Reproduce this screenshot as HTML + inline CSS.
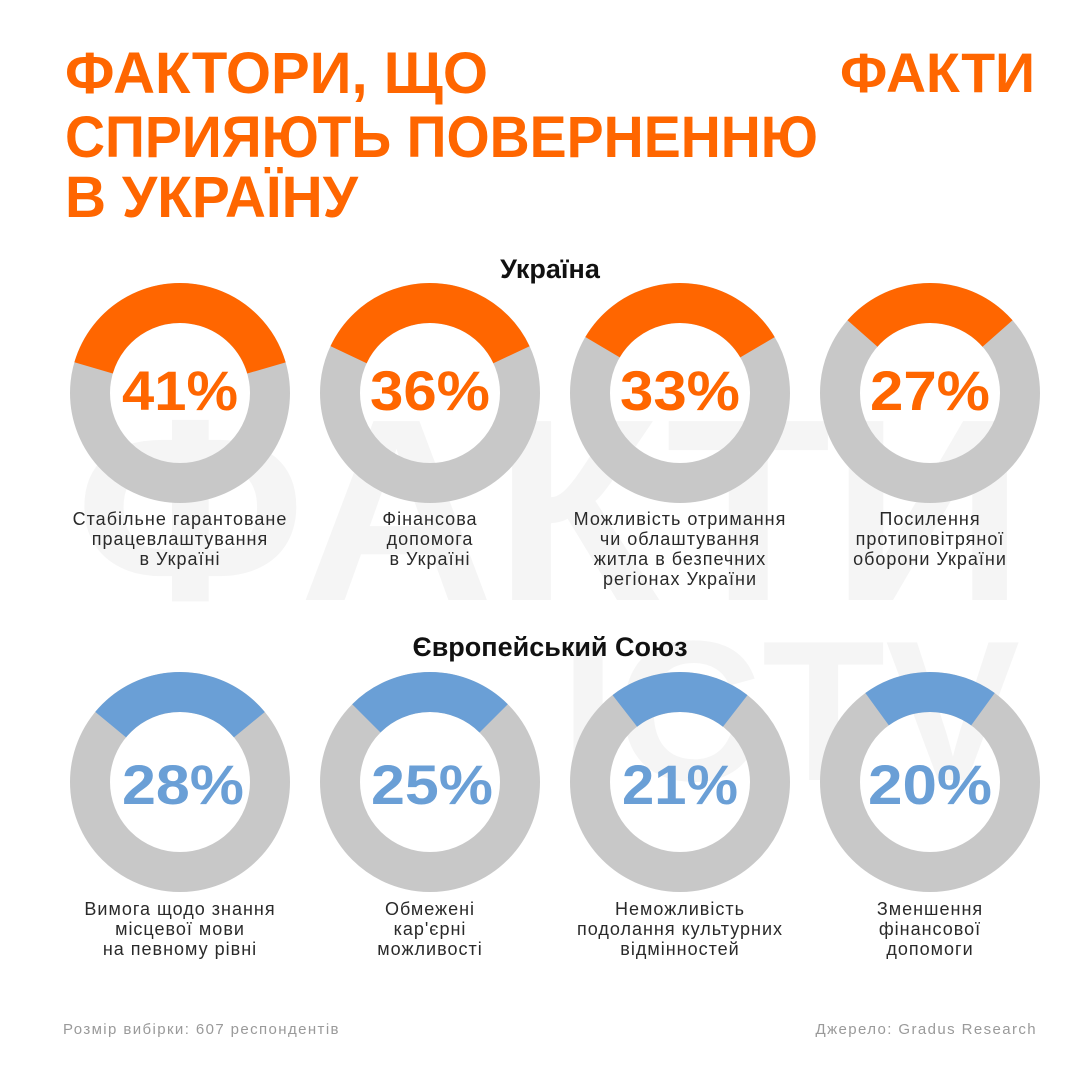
<!DOCTYPE html>
<html><head><meta charset="utf-8"><style>body{margin:0;background:#fff}svg{display:block}</style></head><body>
<svg width="1080" height="1080" viewBox="0 0 1080 1080" xmlns="http://www.w3.org/2000/svg" font-family="Liberation Sans, sans-serif">
<rect width="1080" height="1080" fill="#fff"/>
<g fill="#f5f5f5" font-weight="bold">
<text x="75" y="600" font-size="260" textLength="950" lengthAdjust="spacingAndGlyphs">ФАКТИ</text>
<text x="560" y="780" font-size="200" textLength="460" lengthAdjust="spacingAndGlyphs">ICTV</text>
</g>
<g fill="#ff6600" font-weight="bold" font-size="58">
<text x="65" y="93" textLength="423" lengthAdjust="spacingAndGlyphs">ФАКТОРИ, ЩО</text>
<text x="65" y="157" textLength="753" lengthAdjust="spacingAndGlyphs">СПРИЯЮТЬ ПОВЕРНЕННЮ</text>
<text x="65" y="217" textLength="293" lengthAdjust="spacingAndGlyphs">В УКРАЇНУ</text>
<text x="840" y="92" font-size="56" textLength="195" lengthAdjust="spacingAndGlyphs">ФАКТИ</text>
</g>
<g font-size="27" font-weight="bold" fill="#111" text-anchor="middle">
<text x="550" y="278">Україна</text>
<text x="550" y="656">Європейський Союз</text>
</g>
<g fill="none" stroke-width="40">
<circle cx="180" cy="393" r="90" stroke="#c8c8c8"/>
<circle cx="430" cy="393" r="90" stroke="#c8c8c8"/>
<circle cx="680" cy="393" r="90" stroke="#c8c8c8"/>
<circle cx="930" cy="393" r="90" stroke="#c8c8c8"/>
<circle cx="180" cy="782" r="90" stroke="#c8c8c8"/>
<circle cx="430" cy="782" r="90" stroke="#c8c8c8"/>
<circle cx="680" cy="782" r="90" stroke="#c8c8c8"/>
<circle cx="930" cy="782" r="90" stroke="#c8c8c8"/>
<circle cx="180" cy="393" r="90" stroke="#ff6600" stroke-dasharray="231.85 1000" transform="rotate(-163.8 180 393)"/>
<circle cx="430" cy="393" r="90" stroke="#ff6600" stroke-dasharray="203.58 1000" transform="rotate(-154.8 430 393)"/>
<circle cx="680" cy="393" r="90" stroke="#ff6600" stroke-dasharray="186.61 1000" transform="rotate(-149.4 680 393)"/>
<circle cx="930" cy="393" r="90" stroke="#ff6600" stroke-dasharray="152.68 1000" transform="rotate(-138.6 930 393)"/>
<circle cx="180" cy="782" r="90" stroke="#6a9fd6" stroke-dasharray="158.34 1000" transform="rotate(-140.4 180 782)"/>
<circle cx="430" cy="782" r="90" stroke="#6a9fd6" stroke-dasharray="141.37 1000" transform="rotate(-135 430 782)"/>
<circle cx="680" cy="782" r="90" stroke="#6a9fd6" stroke-dasharray="118.75 1000" transform="rotate(-127.8 680 782)"/>
<circle cx="930" cy="782" r="90" stroke="#6a9fd6" stroke-dasharray="113.10 1000" transform="rotate(-126 930 782)"/>
</g>
<g font-size="56" font-weight="bold" text-anchor="middle" fill="#ff6600">
<text x="180" y="410" textLength="116" lengthAdjust="spacingAndGlyphs">41%</text>
<text x="430" y="410" textLength="120" lengthAdjust="spacingAndGlyphs">36%</text>
<text x="680" y="410" textLength="120" lengthAdjust="spacingAndGlyphs">33%</text>
<text x="930" y="410" textLength="120" lengthAdjust="spacingAndGlyphs">27%</text>
</g>
<g font-size="56" font-weight="bold" text-anchor="middle" fill="#6a9fd6">
<text x="183" y="804" textLength="122" lengthAdjust="spacingAndGlyphs">28%</text>
<text x="432" y="804" textLength="122" lengthAdjust="spacingAndGlyphs">25%</text>
<text x="680" y="804" textLength="116" lengthAdjust="spacingAndGlyphs">21%</text>
<text x="930" y="804" textLength="124" lengthAdjust="spacingAndGlyphs">20%</text>
</g>
<g font-size="18" fill="#2a2a2a" text-anchor="middle" letter-spacing="1">
<text x="180" y="525">Стабільне гарантоване</text>
<text x="180" y="545">працевлаштування</text>
<text x="180" y="565">в Україні</text>
<text x="430" y="525">Фінансова</text>
<text x="430" y="545">допомога</text>
<text x="430" y="565">в Україні</text>
<text x="680" y="525">Можливість отримання</text>
<text x="680" y="545">чи облаштування</text>
<text x="680" y="565">житла в безпечних</text>
<text x="680" y="585">регіонах України</text>
<text x="930" y="525">Посилення</text>
<text x="930" y="545">протиповітряної</text>
<text x="930" y="565">оборони України</text>
<text x="180" y="915">Вимога щодо знання</text>
<text x="180" y="935">місцевої мови</text>
<text x="180" y="955">на певному рівні</text>
<text x="430" y="915">Обмежені</text>
<text x="430" y="935">кар'єрні</text>
<text x="430" y="955">можливості</text>
<text x="680" y="915">Неможливість</text>
<text x="680" y="935">подолання культурних</text>
<text x="680" y="955">відмінностей</text>
<text x="930" y="915">Зменшення</text>
<text x="930" y="935">фінансової</text>
<text x="930" y="955">допомоги</text>
</g>
<g font-size="15" fill="#9a9a9a" letter-spacing="1.4">
<text x="63" y="1034">Розмір вибірки: 607 респондентів</text>
<text x="1037" y="1034" text-anchor="end">Джерело: Gradus Research</text>
</g>
</svg>
</body></html>
